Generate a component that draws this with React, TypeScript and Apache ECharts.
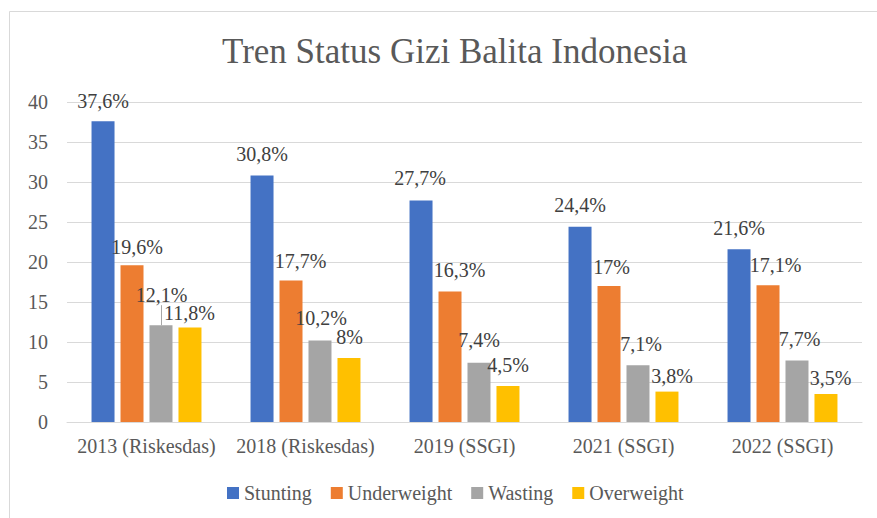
import React, { useEffect, useRef } from "react";
import * as echarts from "echarts";

const categories = ["2013 (Riskesdas)", "2018 (Riskesdas)", "2019 (SSGI)", "2021 (SSGI)", "2022 (SSGI)"];
const seriesNames = ["Stunting", "Underweight", "Wasting", "Overweight"];
const stunting = [37.6, 30.8, 27.7, 24.4, 21.6];
const underweight = [19.6, 17.7, 16.3, 17, 17.1];
const wasting = [12.1, 10.2, 7.4, 7.1, 7.7];
const overweight = [11.8, 8, 4.5, 3.8, 3.5];
const yTicks = { min: 0, max: 40, interval: 5 };

// label nudges (px) to mimic the manually placed labels of the original
const labelDx = [
  [0, 0, -1, 0, 0],
  [5, 9.5, 9.5, 2.5, 7.5],
  [0.5, 1, 0, 3, 2.5],
  [-0.5, 0.5, 0, 5, 4.5],
];
const labelDy = [
  [-10, -11.5, -12.5, -12, -11],
  [-8, -9.5, -11.5, -9, -10],
  [-20, -12.5, -13, -11, -11.5],
  [-4.5, -11, -11, -5.5, -6],
];

const colors = ["#4472C4", "#ED7D31", "#A5A5A5", "#FFC000"];
const FONT = "Liberation Serif, Times New Roman, serif";

export default function App() {
  const ref = useRef<HTMLDivElement>(null);
  useEffect(() => {
    if (!ref.current) return;
    const chart = echarts.init(ref.current, undefined, { renderer: "svg" });
    const values = [stunting, underweight, wasting, overweight];
    const fmt = (p: any) => String(p.value).replace(".", ",") + "%";
    chart.setOption({
      animation: false,
      color: colors,
      textStyle: { fontFamily: FONT },
      title: {
        text: "Tren Status Gizi Balita Indonesia",
        left: 217,
        top: 29,
        textStyle: { fontFamily: FONT, fontSize: 35, fontWeight: "normal", color: "#595959" },
      },
      graphic: [
        {
          type: "rect",
          shape: { x: 9.5, y: 11.5, width: 900, height: 600 },
          style: { fill: "none", stroke: "#d9d9d9", lineWidth: 1 },
          silent: true,
        },
      ],
      legend: {
        data: seriesNames,
        left: 222,
        top: 478,
        itemWidth: 12,
        itemHeight: 12,
        itemGap: 19,
        icon: "rect",
        textStyle: { fontFamily: FONT, fontSize: 20, color: "#595959" },
      },
      grid: { left: 67, right: 15, top: 102, bottom: 96, outerBoundsMode: "none" },
      xAxis: {
        type: "category",
        data: categories,
        axisLine: { lineStyle: { color: "#d9d9d9", width: 1 } },
        axisTick: { show: false },
        axisLabel: { fontFamily: FONT, fontSize: 20, color: "#595959", margin: 14, interval: 0 },
      },
      yAxis: {
        type: "value",
        min: yTicks.min,
        max: yTicks.max,
        interval: yTicks.interval,
        axisLine: { show: false },
        axisTick: { show: false },
        splitLine: { lineStyle: { color: "#d9d9d9", width: 1 } },
        axisLabel: { fontFamily: FONT, fontSize: 20, color: "#595959", margin: 19 },
      },
      series: seriesNames.map((name, si) => ({
        name,
        type: "bar",
        barWidth: 23,
        barGap: "26%",
        data: values[si].map((v, di) =>
          si === 2 && di === 0
            ? { value: v, labelLine: { show: true, lineStyle: { color: "#a6a6a6", width: 1 } } }
            : v
        ),
        label: {
          show: true,
          position: "top",
          distance: 0,
          formatter: fmt,
          fontFamily: FONT,
          fontSize: 20,
          lineHeight: 20,
          color: "#404040",
        },
        labelLayout: (p: any) => ({ dx: labelDx[si][p.dataIndex], dy: labelDy[si][p.dataIndex] }),
      })),
    });
    return () => chart.dispose();
  }, []);
  return <div ref={ref} style={{ position: "absolute", left: 0, top: 0, width: 877, height: 518 }} />;
}
